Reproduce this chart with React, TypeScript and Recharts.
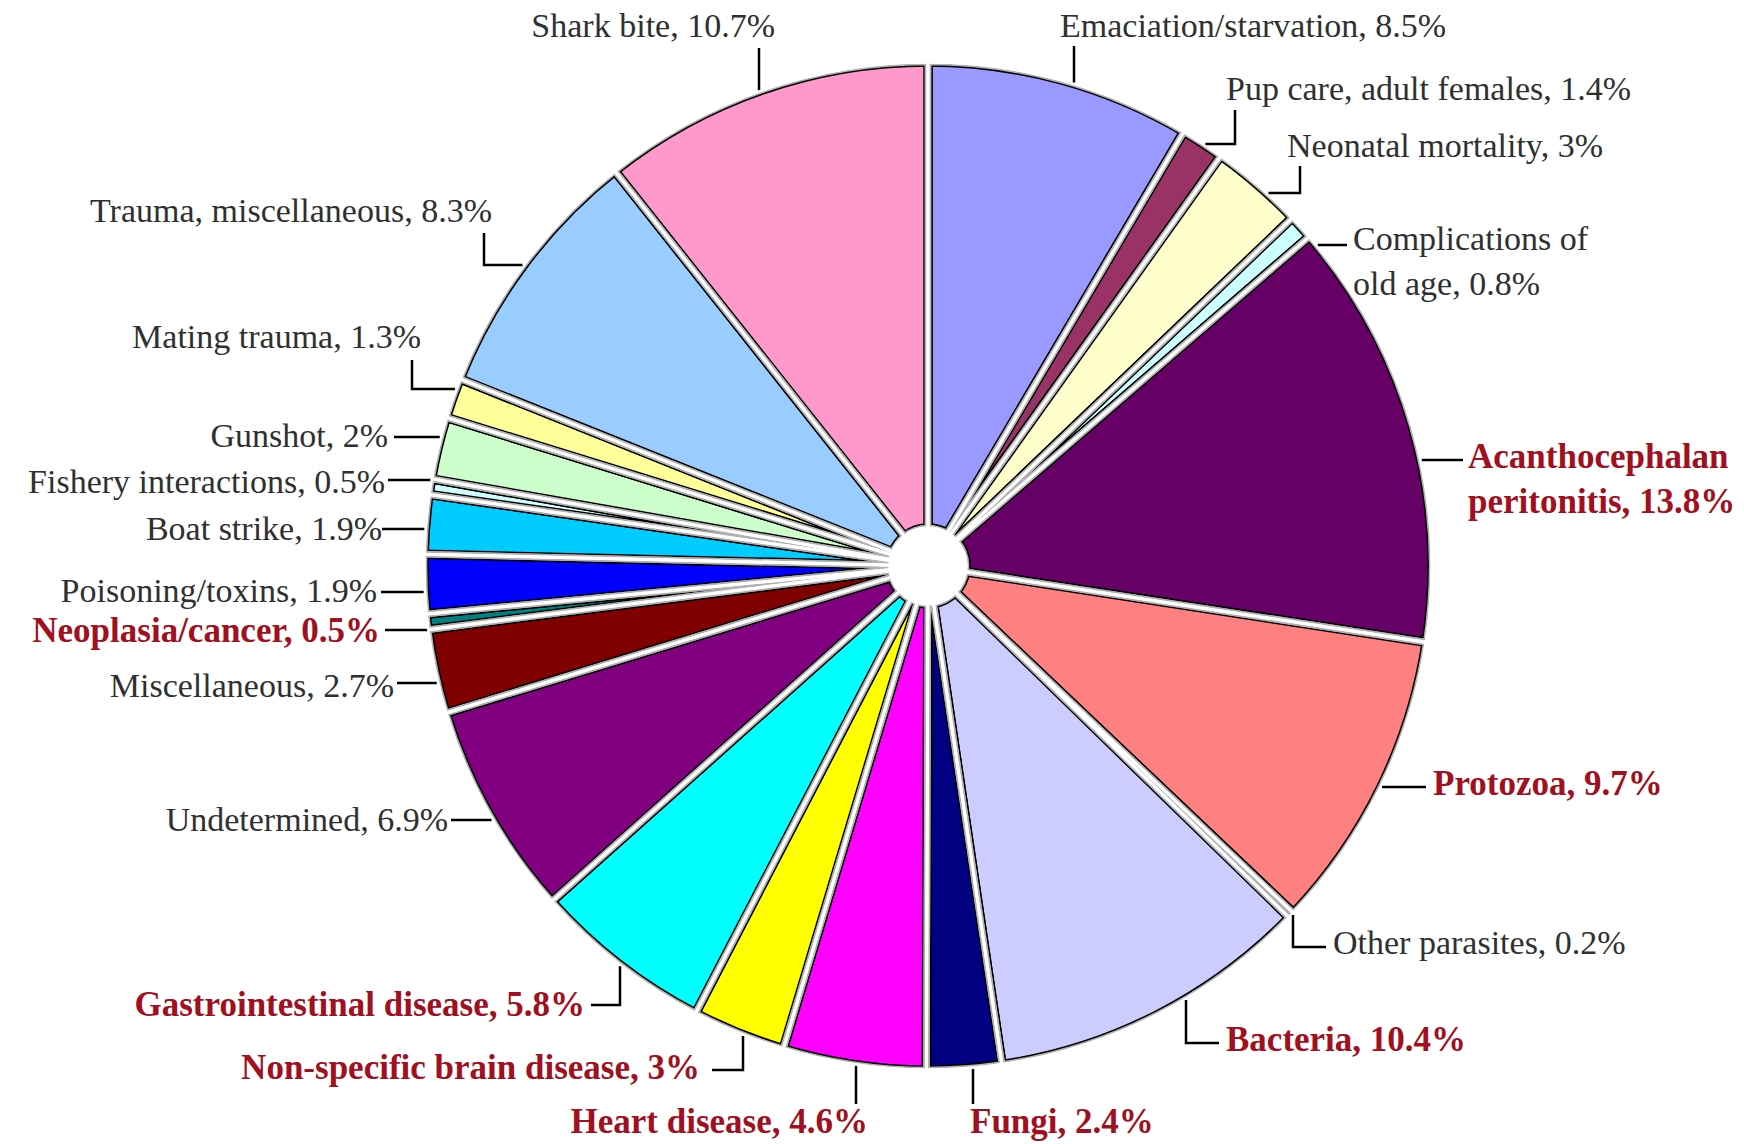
import React from 'react';
import { PieChart, Pie, Cell } from 'recharts';

// ---------- data ----------
const causes = [
  'Emaciation/starvation', 'Pup care, adult females', 'Neonatal mortality', 'Complications of old age',
  'Acanthocephalan peritonitis', 'Protozoa', 'Other parasites', 'Bacteria', 'Fungi', 'Heart disease',
  'Non-specific brain disease', 'Gastrointestinal disease', 'Undetermined', 'Miscellaneous',
  'Neoplasia/cancer', 'Poisoning/toxins', 'Boat strike', 'Fishery interactions', 'Gunshot',
  'Mating trauma', 'Trauma, miscellaneous', 'Shark bite',
];
const percents = [8.5, 1.4, 3, 0.8, 13.8, 9.7, 0.2, 10.4, 2.4, 4.6, 3, 5.8, 6.9, 2.7, 0.5, 1.9, 1.9, 0.5, 2, 1.3, 8.3, 10.7];
const percentText = ['8.5%', '1.4%', '3%', '0.8%', '13.8%', '9.7%', '0.2%', '10.4%', '2.4%', '4.6%', '3%', '5.8%', '6.9%', '2.7%', '0.5%', '1.9%', '1.9%', '0.5%', '2%', '1.3%', '8.3%', '10.7%'];

// ---------- styles ----------
const sliceColors = [
  '#9999FF', '#993366', '#FFFFCC', '#CCFFFF', '#660066', '#FF8080', '#0066CC', '#CCCCFF', '#000080', '#FF00FF',
  '#FFFF00', '#00FFFF', '#800080', '#800000', '#008080', '#0000FF', '#00CCFF', '#CCFFFF', '#CCFFCC', '#FFFF99',
  '#99CCFF', '#FF99CC',
];
const highlighted = [false, false, false, false, true, true, false, true, true, true, true, true, false, false, true, false, false, false, false, false, false, false];

// label layout: text lines, text anchor position, leader geometry
type Leader = { type: 'H' | 'V' | 'VH' | 'HV'; ax: number; ay: number; e?: number };
type LabelLayout = { lines: string[]; x: number; y: number; anchor: 'start' | 'end'; leader: Leader };
const labelLayout: LabelLayout[] = [
  { lines: ['Emaciation/starvation, 8.5%'], x: 1060, y: 37, anchor: 'start', leader: { type: 'V', ax: 1074, ay: 46 } },
  { lines: ['Pup care, adult females, 1.4%'], x: 1226, y: 100, anchor: 'start', leader: { type: 'VH', ax: 1235, ay: 110, e: 144 } },
  { lines: ['Neonatal mortality, 3%'], x: 1287, y: 157, anchor: 'start', leader: { type: 'VH', ax: 1300, ay: 166, e: 193 } },
  { lines: ['Complications of', 'old age, 0.8%'], x: 1353, y: 250, anchor: 'start', leader: { type: 'H', ax: 1347, ay: 245 } },
  { lines: ['Acanthocephalan', 'peritonitis, 13.8%'], x: 1468, y: 468, anchor: 'start', leader: { type: 'H', ax: 1463, ay: 460 } },
  { lines: ['Protozoa, 9.7%'], x: 1433, y: 795, anchor: 'start', leader: { type: 'H', ax: 1426, ay: 787 } },
  { lines: ['Other parasites, 0.2%'], x: 1333, y: 954, anchor: 'start', leader: { type: 'HV', ax: 1326, ay: 947, e: 1293 } },
  { lines: ['Bacteria, 10.4%'], x: 1226, y: 1051, anchor: 'start', leader: { type: 'HV', ax: 1219, ay: 1043, e: 1186 } },
  { lines: ['Fungi, 2.4%'], x: 970, y: 1133, anchor: 'start', leader: { type: 'V', ax: 973, ay: 1104 } },
  { lines: ['Heart disease, 4.6%'], x: 868, y: 1133, anchor: 'end', leader: { type: 'V', ax: 856, ay: 1104 } },
  { lines: ['Non-specific brain disease, 3%'], x: 700, y: 1079, anchor: 'end', leader: { type: 'HV', ax: 712, ay: 1070, e: 743 } },
  { lines: ['Gastrointestinal disease, 5.8%'], x: 585, y: 1016, anchor: 'end', leader: { type: 'HV', ax: 591, ay: 1005, e: 620 } },
  { lines: ['Undetermined, 6.9%'], x: 448, y: 831, anchor: 'end', leader: { type: 'H', ax: 451, ay: 820 } },
  { lines: ['Miscellaneous, 2.7%'], x: 394, y: 697, anchor: 'end', leader: { type: 'H', ax: 397, ay: 683 } },
  { lines: ['Neoplasia/cancer, 0.5%'], x: 380, y: 642, anchor: 'end', leader: { type: 'H', ax: 385, ay: 630 } },
  { lines: ['Poisoning/toxins, 1.9%'], x: 377, y: 602, anchor: 'end', leader: { type: 'H', ax: 381, ay: 592 } },
  { lines: ['Boat strike, 1.9%'], x: 382, y: 540, anchor: 'end', leader: { type: 'H', ax: 382, ay: 529 } },
  { lines: ['Fishery interactions, 0.5%'], x: 385, y: 493, anchor: 'end', leader: { type: 'H', ax: 388, ay: 480 } },
  { lines: ['Gunshot, 2%'], x: 388, y: 447, anchor: 'end', leader: { type: 'H', ax: 394, ay: 437 } },
  { lines: ['Mating trauma, 1.3%'], x: 421, y: 348, anchor: 'end', leader: { type: 'VH', ax: 412, ay: 360, e: 389 } },
  { lines: ['Trauma, miscellaneous, 8.3%'], x: 492, y: 222, anchor: 'end', leader: { type: 'VH', ax: 484, ay: 233, e: 265 } },
  { lines: ['Shark bite, 10.7%'], x: 775, y: 37, anchor: 'end', leader: { type: 'V', ax: 759, ay: 48 } },
];

const data = causes.map((name, i) => ({ name, value: percents[i], pct: percentText[i] }));
const fullRing = [{ name: 'ring', value: 1 }];

const W = 1744;
const H = 1144;
const CX = 928;
const CY = 566;
const R0 = 504;
const RIN = 38;
const FONT = '"Liberation Serif", "DejaVu Serif", serif';

const renderLabel = (props: any) => {
  const { index, cx, cy, outerRadius } = props;
  const L = labelLayout[index];
  if (!L) return null;
  const r = outerRadius;
  const lead = L.leader;
  const rimX = (y: number, sx: number) => cx + Math.sign(sx - cx) * Math.sqrt(Math.max(0, r * r - (y - cy) * (y - cy)));
  const rimY = (x: number, sy: number) => cy + Math.sign(sy - cy) * Math.sqrt(Math.max(0, r * r - (x - cx) * (x - cx)));
  let pts: number[][] = [];
  if (lead.type === 'H') pts = [[lead.ax, lead.ay], [rimX(lead.ay, lead.ax), lead.ay]];
  else if (lead.type === 'V') pts = [[lead.ax, lead.ay], [lead.ax, rimY(lead.ax, lead.ay)]];
  else if (lead.type === 'VH') pts = [[lead.ax, lead.ay], [lead.ax, lead.e!], [rimX(lead.e!, lead.ax), lead.e!]];
  else pts = [[lead.ax, lead.ay], [lead.e!, lead.ay], [lead.e!, rimY(lead.e!, lead.ay)]];
  const hl = highlighted[index];
  return (
    <g key={`lbl-${index}`}>
      <polyline points={pts.map((p) => p.join(',')).join(' ')} fill="none" stroke="#000" strokeWidth={2.5} />
      {L.lines.map((line, k) => (
        <text
          key={k}
          x={L.x}
          y={L.y + k * 45}
          textAnchor={L.anchor}
          fontFamily={FONT}
          fontSize={hl ? 35 : 34}
          fontWeight={hl ? 'bold' : 'normal'}
          fill={hl ? '#A01020' : '#303030'}
        >
          {line}
        </text>
      ))}
    </g>
  );
};

export default function App() {
  const common = {
    data,
    dataKey: 'value',
    nameKey: 'name',
    cx: CX,
    cy: CY,
    startAngle: 90,
    endAngle: -270,
    isAnimationActive: false,
  };
  return (
    <div style={{ position: 'absolute', left: 0, top: 0, width: W, height: H, background: '#fff' }}>
      <PieChart width={W} height={H} margin={{ top: 0, right: 0, bottom: 0, left: 0 }}>
        {/* slices with dark outline */}
        <Pie {...common} innerRadius={RIN} outerRadius={R0} stroke="#000" strokeWidth={9.5}>
          {data.map((d, i) => (
            <Cell key={`f-${i}`} fill={sliceColors[i]} />
          ))}
        </Pie>
        {/* grey shading in the gaps */}
        <Pie {...common} innerRadius={RIN} outerRadius={R0} stroke="#b2b2b2" strokeWidth={6.5}>
          {data.map((d, i) => (
            <Cell key={`g-${i}`} fill="none" />
          ))}
        </Pie>
        {/* white centre of the gaps */}
        <Pie {...common} innerRadius={RIN} outerRadius={R0} stroke="#ffffff" strokeWidth={3}>
          {data.map((d, i) => (
            <Cell key={`w-${i}`} fill="none" />
          ))}
        </Pie>
        {/* outer clean-up ring */}
        <Pie data={fullRing} dataKey="value" cx={CX} cy={CY} startAngle={90} endAngle={-270}
          innerRadius={R0 - 1.5} outerRadius={R0 + 16} fill="#ffffff" stroke="none" isAnimationActive={false} />
        {/* centre hole */}
        <Pie data={fullRing} dataKey="value" cx={CX} cy={CY} startAngle={90} endAngle={-270}
          innerRadius={0} outerRadius={RIN + 1.5} fill="#ffffff" stroke="none" isAnimationActive={false} />
        {/* labels with leader lines */}
        <Pie {...common} innerRadius={RIN} outerRadius={R0 + 1} stroke="none" label={renderLabel} labelLine={false}>
          {data.map((d, i) => (
            <Cell key={`l-${i}`} fill="none" />
          ))}
        </Pie>
      </PieChart>
    </div>
  );
}
